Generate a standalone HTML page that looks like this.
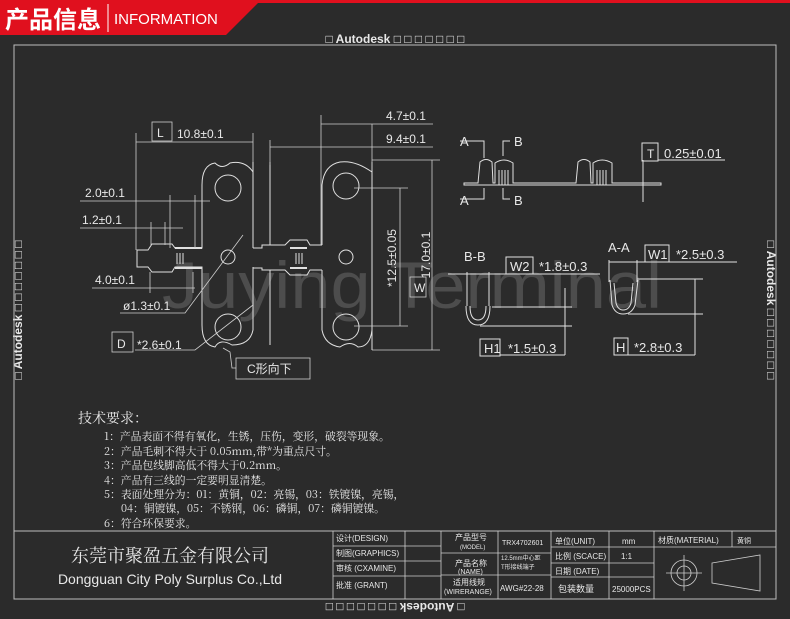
<!DOCTYPE html>
<html><head><meta charset="utf-8"><style>
html,body{margin:0;padding:0;background:#2b2b2b;width:790px;height:619px;overflow:hidden}
svg{display:block}
text{font-family:"Liberation Sans","Noto Sans CJK SC",sans-serif;fill:#e8e8e8}
.s{font-family:"Noto Serif CJK SC","Liberation Serif",serif}
</style></head><body>
<svg width="790" height="619" viewBox="0 0 790 619" xmlns="http://www.w3.org/2000/svg">
<rect width="790" height="619" fill="#2b2b2b"/>
<!-- header -->
<polygon points="0,0 790,0 790,3 258,3 226,35 0,35" fill="#e0101e"/>
<text x="5" y="28" font-size="24" font-weight="bold" style="fill:#fff">产品信息</text>
<line x1="108" y1="4" x2="108" y2="32" stroke="#fff" stroke-width="1"/>
<text x="114" y="24" font-size="15" style="fill:#fff">INFORMATION</text>
<text x="395" y="43" font-size="12" font-weight="bold" text-anchor="middle">□  Autodesk □ □ □ □ □ □ □</text>
<text x="395" y="611" font-size="12" font-weight="bold" text-anchor="middle" transform="rotate(180 395 607)">□  Autodesk □ □ □ □ □ □ □</text>
<text font-size="12" font-weight="bold" transform="translate(22 310) rotate(-90)" text-anchor="middle">□  Autodesk □ □ □ □ □ □ □</text>
<text font-size="12" font-weight="bold" transform="translate(767 310) rotate(90)" text-anchor="middle">□  Autodesk □ □ □ □ □ □ □</text>
<!-- frame -->
<g fill="none" stroke="#bdbdbd" stroke-width="1">
<polyline points="14,599 14,45 776,45 776,599"/>
<rect x="14" y="531" width="762" height="68"/>
</g>
<!-- watermark -->
<text x="162" y="308" font-size="66" textLength="500" lengthAdjust="spacingAndGlyphs" style="fill:#4d4d4d">Juying Terminal</text>
<!-- left drawing -->
<g fill="none" stroke="#e0e0e0" stroke-width="1">
<path d="M253,162 L253,248 M202,185 Q202,165 215,163 Q222,170 230,163 Q245,160 253,172 M202,185 L202,248 L175,248 L172,244 L152,244 L148,250 L137,250 L137,267 L148,267 L152,272 L172,272 L175,267 L202,267 L202,325 Q202,345 215,347 Q220,338 232,345 Q250,345 253,330 L253,267"/>
<circle cx="228" cy="188" r="13"/>
<circle cx="228" cy="327" r="13"/>
<circle cx="228" cy="257" r="7"/>
<path d="M253,248 L262,248 L262,245 L270,245 L270,162 M253,268 L262,268 L262,270 L270,270"/>
<path d="M270,245 L285,245 L290,240 L307,240 L310,245 L322,245 M270,270 L285,270 L290,275 L307,275 L310,270 L322,270"/>
<line x1="270" y1="270" x2="270" y2="345"/>
<path d="M322,245 L322,185 Q324,165 340,162 Q355,160 372,172 M322,270 L322,330 Q325,345 340,347 Q350,340 358,347 Q370,347 372,330 L372,162 M372,350 L372,180"/>
<circle cx="346" cy="186" r="13"/>
<circle cx="346" cy="327" r="13"/>
<circle cx="346" cy="257" r="7"/>
<path d="M177,253 V264 M180,253 V264 M183,253 V264 M296,253 V264 M299,253 V264 M302,253 V264"/>
<line x1="175" y1="248" x2="202" y2="248" stroke-width="2"/>
<line x1="175" y1="268" x2="202" y2="268" stroke-width="2"/>
<line x1="290" y1="248" x2="307" y2="248" stroke-width="2"/>
<line x1="290" y1="268" x2="307" y2="268" stroke-width="2"/>
</g>
<!-- dimensions -->
<g fill="none" stroke="#cfcfcf" stroke-width="0.8">
<line x1="136" y1="142" x2="253" y2="142"/><line x1="136" y1="133" x2="136" y2="250"/><line x1="253" y1="133" x2="253" y2="162"/>
<rect x="152" y="122" width="20" height="19"/>
<line x1="321" y1="124" x2="433" y2="124"/><line x1="321" y1="115" x2="321" y2="245"/><line x1="372" y1="124" x2="372" y2="170"/>
<line x1="270" y1="147" x2="433" y2="147"/><line x1="270" y1="140" x2="270" y2="165"/>
<line x1="372" y1="160" x2="440" y2="160"/><line x1="372" y1="350" x2="440" y2="350"/>
<line x1="432" y1="160" x2="432" y2="350"/>
<rect x="410" y="277" width="16" height="20"/>
<line x1="354" y1="188" x2="408" y2="188"/><line x1="354" y1="326" x2="408" y2="326"/>
<line x1="400" y1="188" x2="400" y2="326"/>
<line x1="80" y1="201" x2="210" y2="201"/><line x1="170" y1="195" x2="170" y2="248"/><line x1="195" y1="195" x2="195" y2="248"/>
<line x1="80" y1="228" x2="183" y2="228"/><line x1="151" y1="222" x2="151" y2="245"/><line x1="165" y1="222" x2="165" y2="245"/>
<line x1="92" y1="288" x2="195" y2="288"/><line x1="150" y1="272" x2="150" y2="293"/><line x1="193" y1="272" x2="193" y2="293"/>
<polyline points="120,313 185,313 243,235"/>
<rect x="112" y="332" width="21" height="20"/>
<polyline points="135,350 195,350 253,305"/>
<polyline points="223,348 230,352 232,368 236,368"/>
<rect x="236" y="358" width="74" height="21"/>
</g>
<g font-size="12">
<text x="177" y="138">10.8±0.1</text>
<text x="157" y="137">L</text>
<text x="386" y="120">4.7±0.1</text>
<text x="386" y="143">9.4±0.1</text>
<text x="85" y="197">2.0±0.1</text>
<text x="82" y="224">1.2±0.1</text>
<text x="95" y="284">4.0±0.1</text>
<text x="123" y="310">ø1.3±0.1</text>
<text x="117" y="348">D</text>
<text x="137" y="349">*2.6±0.1</text>
<text x="414" y="292">W</text>
<text transform="translate(430 255) rotate(-90)" text-anchor="middle">17.0±0.1</text>
<text transform="translate(396 258) rotate(-90)" text-anchor="middle">*12.5±0.05</text>
<text x="247" y="373">C形向下</text>
</g>
<!-- right: side view -->
<g fill="none" stroke="#e0e0e0" stroke-width="1">
<path d="M464,183 L478,183 L480,162 Q486,157 492,162 L493,183 L495,183 L495,163 Q504,157 513,163 L513,183 L576,183 L578,162 Q584,157 590,162 L591,183 L593,183 L593,163 Q602,157 612,163 L612,183 L661,183 L661,185 L464,185 Z"/>
<path d="M499,170 V185 M502,170 V185 M505,170 V185 M508,170 V185 M597,170 V185 M600,170 V185 M603,170 V185 M606,170 V185"/>
<polyline points="460,141 484,141 484,158"/><polyline points="460,199 484,199 484,188"/>
<polyline points="510,141 503,141 503,156"/><polyline points="510,199 503,199 503,188"/>
<line x1="643" y1="160" x2="643" y2="202"/>
<rect x="642" y="143" width="16" height="18"/>
<line x1="658" y1="160" x2="725" y2="160"/>
<path d="M466,306 Q466,325 478,325 Q490,325 490,306 M470,306 Q470,320 478,320 Q486,320 486,306"/>
<line x1="467" y1="272" x2="467" y2="306"/><line x1="489" y1="272" x2="489" y2="306"/>
<line x1="448" y1="274" x2="600" y2="274"/>
<rect x="506" y="257" width="27" height="17"/>
<line x1="492" y1="307" x2="572" y2="307"/><line x1="480" y1="326" x2="572" y2="326"/>
<line x1="565" y1="288" x2="565" y2="355"/>
<rect x="480" y="339" width="20" height="17"/>
<line x1="500" y1="355" x2="565" y2="355"/>
<path d="M610,280 L612,305 Q615,314 623,314 Q632,314 635,305 L638,280 M614,283 L616,303 Q618,310 623,310 Q629,310 631,303 L633,283"/>
<line x1="609" y1="260" x2="609" y2="282"/><line x1="637" y1="260" x2="637" y2="282"/>
<line x1="609" y1="262" x2="737" y2="262"/>
<rect x="645" y="245" width="24" height="17"/>
<line x1="637" y1="279" x2="703" y2="279"/><line x1="628" y1="314" x2="703" y2="314"/>
<line x1="695" y1="279" x2="695" y2="355"/>
<rect x="614" y="338" width="14" height="17"/>
<line x1="628" y1="355" x2="695" y2="355"/>
</g>
<g font-size="13">
<text x="460" y="146">A</text><text x="460" y="205">A</text>
<text x="514" y="146">B</text><text x="514" y="205">B</text>
<text x="647" y="158" font-size="12">T</text>
<text x="664" y="158">0.25±0.01</text>
<text x="464" y="261">B-B</text>
<text x="510" y="271">W2</text>
<text x="539" y="271">*1.8±0.3</text>
<text x="484" y="353">H1</text>
<text x="508" y="353">*1.5±0.3</text>
<text x="608" y="252">A-A</text>
<text x="648" y="259">W1</text>
<text x="676" y="259">*2.5±0.3</text>
<text x="616" y="352">H</text>
<text x="634" y="352">*2.8±0.3</text>
</g>
<!-- tech requirements -->
<text x="78" y="423" font-size="14" class="s">技术要求：</text>
<g font-size="10.8">
<text x="104" y="440" class="s">1：产品表面不得有氧化，生锈，压伤，变形，破裂等现象。</text>
<text x="104" y="455" class="s">2：产品毛刺不得大于  0.05mm,带*为重点尺寸。</text>
<text x="104" y="469" class="s">3：产品包线脚高低不得大于0.2mm。</text>
<text x="104" y="484" class="s">4：产品有三线的一定要明显清楚。</text>
<text x="104" y="498" class="s">5：表面处理分为：01：黄铜，02：亮锡，03：铁镀镍，亮锡，</text>
<text x="121" y="512" class="s">04：铜镀镍，05：不锈钢，06：磷铜，07：磷铜镀镍。</text>
<text x="104" y="527" class="s">6：符合环保要求。</text>
</g>
<!-- title block -->
<g fill="none" stroke="#cfcfcf" stroke-width="0.8">
<line x1="333" y1="531" x2="333" y2="599"/><line x1="405" y1="531" x2="405" y2="599"/>
<line x1="441" y1="531" x2="441" y2="599"/><line x1="498" y1="531" x2="498" y2="599"/>
<line x1="551" y1="531" x2="551" y2="599"/><line x1="609" y1="531" x2="609" y2="599"/>
<line x1="654" y1="531" x2="654" y2="599"/><line x1="732" y1="531" x2="732" y2="547"/>
<line x1="333" y1="546" x2="441" y2="546"/><line x1="333" y1="561" x2="441" y2="561"/><line x1="333" y1="576" x2="441" y2="576"/>
<line x1="441" y1="553" x2="551" y2="553"/><line x1="441" y1="575" x2="551" y2="575"/>
<line x1="551" y1="547" x2="654" y2="547"/><line x1="551" y1="563" x2="654" y2="563"/><line x1="551" y1="577" x2="654" y2="577"/>
<line x1="654" y1="547" x2="776" y2="547"/>
<circle cx="684" cy="573" r="13"/><circle cx="684" cy="573" r="7"/>
<line x1="666" y1="573" x2="702" y2="573"/><line x1="684" y1="555" x2="684" y2="591"/>
<polygon points="712,563 760,555 760,591 712,583"/>
</g>
<text x="170" y="562" font-size="18" text-anchor="middle" class="s">东莞市聚盈五金有限公司</text>
<text x="170" y="584" font-size="14" text-anchor="middle">Dongguan City Poly Surplus Co.,Ltd</text>
<g font-size="8">
<text x="336" y="541">设计(DESIGN)</text>
<text x="336" y="556">制图(GRAPHICS)</text>
<text x="336" y="571">审核 (CXAMINE)</text>
<text x="336" y="588">批准 (GRANT)</text>
<text x="455" y="540">产品型号</text><text x="460" y="549" font-size="6">(MODEL)</text>
<text x="455" y="566">产品名称</text><text x="458" y="574" font-size="7">(NAME)</text>
<text x="453" y="585">适用线规</text><text x="444" y="594" font-size="7">(WIRERANGE)</text>
<text x="502" y="545" font-size="7">TRX4702601</text>
<text x="501" y="560" font-size="6">12.5mm中心距</text>
<text x="501" y="569" font-size="6">T形接线端子</text>
<text x="500" y="591" font-size="8">AWG#22-28</text>
<text x="555" y="544">单位(UNIT)</text><text x="622" y="544">mm</text>
<text x="555" y="559">比例 (SCACE)</text><text x="621" y="559">1:1</text>
<text x="555" y="574">日期 (DATE)</text>
<text x="558" y="592" font-size="9">包装数量</text><text x="612" y="592">25000PCS</text>
<text x="658" y="543">材质(MATERIAL)</text><text x="737" y="543" font-size="7">黄铜</text>
</g>
</svg>
</body></html>
